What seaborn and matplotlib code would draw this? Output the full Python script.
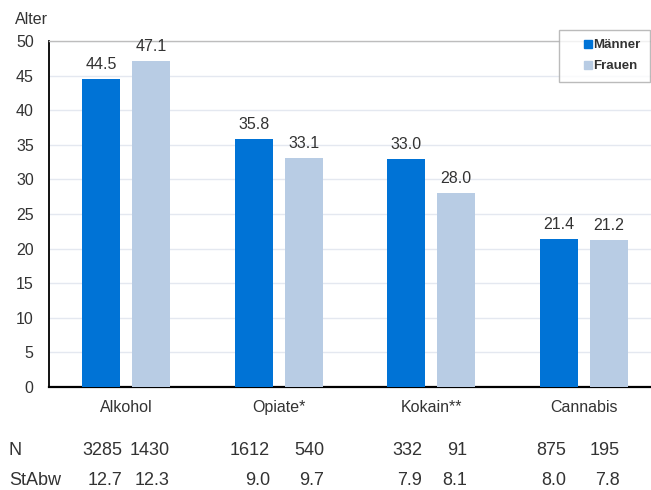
import pandas as pd
import matplotlib
matplotlib.use("Agg")
import matplotlib.pyplot as plt
import seaborn as sns
from matplotlib.lines import Line2D

# Daten
kategorien = ["Alkohol", "Opiate*", "Kokain**", "Cannabis"]
maenner = [44.5, 35.8, 33.0, 21.4]
frauen = [47.1, 33.1, 28.0, 21.2]
n_maenner = [3285, 1612, 332, 875]
n_frauen = [1430, 540, 91, 195]
sd_maenner = [12.7, 9.0, 7.9, 8.0]
sd_frauen = [12.3, 9.7, 8.1, 7.8]
y_ticks = [0, 5, 10, 15, 20, 25, 30, 35, 40, 45, 50]

farben = {"Männer": "#0073d6", "Frauen": "#b8cce4"}
text_farbe = "#333333"

df = pd.DataFrame({
    "Substanz": kategorien * 2,
    "Geschlecht": ["Männer"] * 4 + ["Frauen"] * 4,
    "Alter": maenner + frauen,
})

sns.set_theme(style="white")
plt.rcParams["font.family"] = ["Liberation Sans", "DejaVu Sans"]

W, H = 651, 490
fig = plt.figure(figsize=(W / 100, H / 100), dpi=100)
ax = fig.add_axes([49 / W, 1 - 387 / H, 1 - 49 / W, (387 - 41) / H])

sns.barplot(
    data=df, x="Substanz", y="Alter", hue="Geschlecht",
    palette=farben, width=0.656, gap=0.24, legend=False, ax=ax,
    saturation=1, zorder=3, linewidth=0,
)

# Werte über den Balken
for cont in ax.containers:
    ax.bar_label(cont, fmt="%.1f", padding=5, fontsize=11.5, color=text_farbe)

ax.set_xlim(-0.505, 3.44)
ax.set_ylim(0, 50)
ax.set_yticks(y_ticks)
ax.set_xlabel("")
ax.set_ylabel("")
ax.grid(axis="y", color="#e4e8f0", linewidth=1, zorder=0)
ax.tick_params(axis="y", length=0, pad=11, labelsize=11.5, labelcolor=text_farbe)
ax.tick_params(axis="x", length=0, pad=9, labelsize=11.5, labelcolor=text_farbe)

ax.spines["right"].set_visible(False)
ax.spines["top"].set_color("#bdbdbd")
ax.spines["top"].set_linewidth(1)
ax.spines["left"].set_color("black")
ax.spines["left"].set_linewidth(1.3)
ax.spines["bottom"].set_color("black")
ax.spines["bottom"].set_linewidth(1.6)

fig.text(15 / W, 1 - 19 / H, "Alter", fontsize=11.5, color=text_farbe, va="center", ha="left")

# Legende
handles = [
    Line2D([], [], marker="s", linestyle="none", markersize=5.5,
           markerfacecolor=farben[k], markeredgecolor=farben[k])
    for k in ["Männer", "Frauen"]
]
leg = ax.legend(
    handles, ["Männer", "Frauen"],
    loc="upper right", bbox_to_anchor=(650 / W, 1 - 30 / H),
    bbox_transform=fig.transFigure, borderaxespad=0,
    prop={"weight": "bold", "size": 9.5}, fancybox=False,
    frameon=True, handlelength=3.0, handletextpad=-1.1,
    labelspacing=0.65, borderpad=0.7,
)
leg.get_frame().set_edgecolor("#aaaaaa")
leg.get_frame().set_linewidth(1)
for t in leg.get_texts():
    t.set_color(text_farbe)

# Tabelle unter dem Diagramm (N und StAbw)
spalten_rechts = [122, 170, 270, 324, 422, 467, 566, 620]
zeile_n = 1 - 450 / H
zeile_sd = 1 - 480 / H
tab_gr = 13
fig.text(9 / W, zeile_n, "N", fontsize=tab_gr, color=text_farbe, va="center", ha="left")
fig.text(9 / W, zeile_sd, "StAbw", fontsize=tab_gr, color=text_farbe, va="center", ha="left")
n_werte = [v for pair in zip(n_maenner, n_frauen) for v in pair]
sd_werte = [v for pair in zip(sd_maenner, sd_frauen) for v in pair]
for xr, nv, sv in zip(spalten_rechts, n_werte, sd_werte):
    fig.text(xr / W, zeile_n, f"{nv}", fontsize=tab_gr, color=text_farbe, va="center", ha="right")
    fig.text(xr / W, zeile_sd, f"{sv:.1f}", fontsize=tab_gr, color=text_farbe, va="center", ha="right")

fig.savefig("out.png", dpi=100)
plt.close(fig)
